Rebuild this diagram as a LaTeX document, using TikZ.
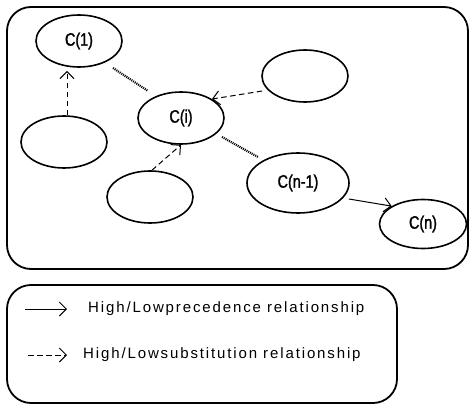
\documentclass[tikz,border=0pt]{standalone}
\usepackage{fontspec}
\setmainfont{Liberation Sans}
\newfontfamily\narrowfont[FakeStretch=0.8,FakeBold=1.5]{Liberation Sans}
\newfontfamily\legfont[LetterSpace=12.5]{Liberation Sans}
\usetikzlibrary{shapes.geometric,arrows.meta}
\begin{document}
\begin{tikzpicture}[x=1pt,y=-1pt,
  frame/.style={draw, line width=1.8pt, rounded corners=24pt},
  ell/.style={draw, ellipse, line width=1.6pt, minimum width=86pt, minimum height=52pt, inner sep=0pt, font=\narrowfont\fontsize{18}{18}\selectfont},
  dep/.style={line width=1pt, dash pattern=on 5.5pt off 3.5pt, -{Straight Barb[length=7pt,width=14pt,line width=1pt]}},
  prec/.style={line width=1pt, -{Straight Barb[length=7pt,width=14pt,line width=1pt]}},
  rel/.style={line width=2.2pt, dash pattern=on 1pt off 1pt},
  leg/.style={anchor=west, inner sep=0pt, font=\legfont\fontsize{15}{15}\selectfont}]
\useasboundingbox (0,0) rectangle (470,406);
\draw[frame] (7,7) rectangle (468,269);
\node[ell] (c1) at (79,41) {C(1)};
\node[ell] (rt) at (305,76) {};
\node[ell] (ci) at (181,118) {C(i)};
\node[ell] (lf) at (64,142) {};
\node[ell] (bt) at (150,197) {};
\node[ell, minimum width=102pt, minimum height=60pt] (cn1) at (298,183) {C(n-1)};
\node[ell, minimum width=87pt, minimum height=49pt] (cn) at (423,224) {C(n)};
\coordinate (d1a) at (113,68); \coordinate (d1b) at (148,91);
\coordinate (d2a) at (222,137); \coordinate (d2b) at (258,157);
\draw[rel] (d1a) -- (d1b);
\draw[rel] (d2a) -- (d2b);
\draw[dep] (lf.north -| 67,0) -- (67,71);
\draw[dep] (rt.west |- 0,91) ++(1,0) -- (ci.north east);
\draw[dep] (bt.north) ++(2,0) -- (ci.south);
\draw[prec] (cn1.east) ++(-1,16) -- (cn.north west);
\draw[frame] (7,285) rectangle (397,403);
\coordinate (a1s) at (25,309); \coordinate (a1e) at (67,309);
\coordinate (a2s) at (28,355); \coordinate (a2e) at (67,355);
\draw[prec] (a1s) -- (a1e);
\draw[dep] (a2s) -- (a2e);
\node[leg] (t1) at (88,309) {High/Lowprecedence relationship};
\node[leg] (t2) at (83,355) {High/Lowsubstitution relationship};
\end{tikzpicture}
\end{document}
